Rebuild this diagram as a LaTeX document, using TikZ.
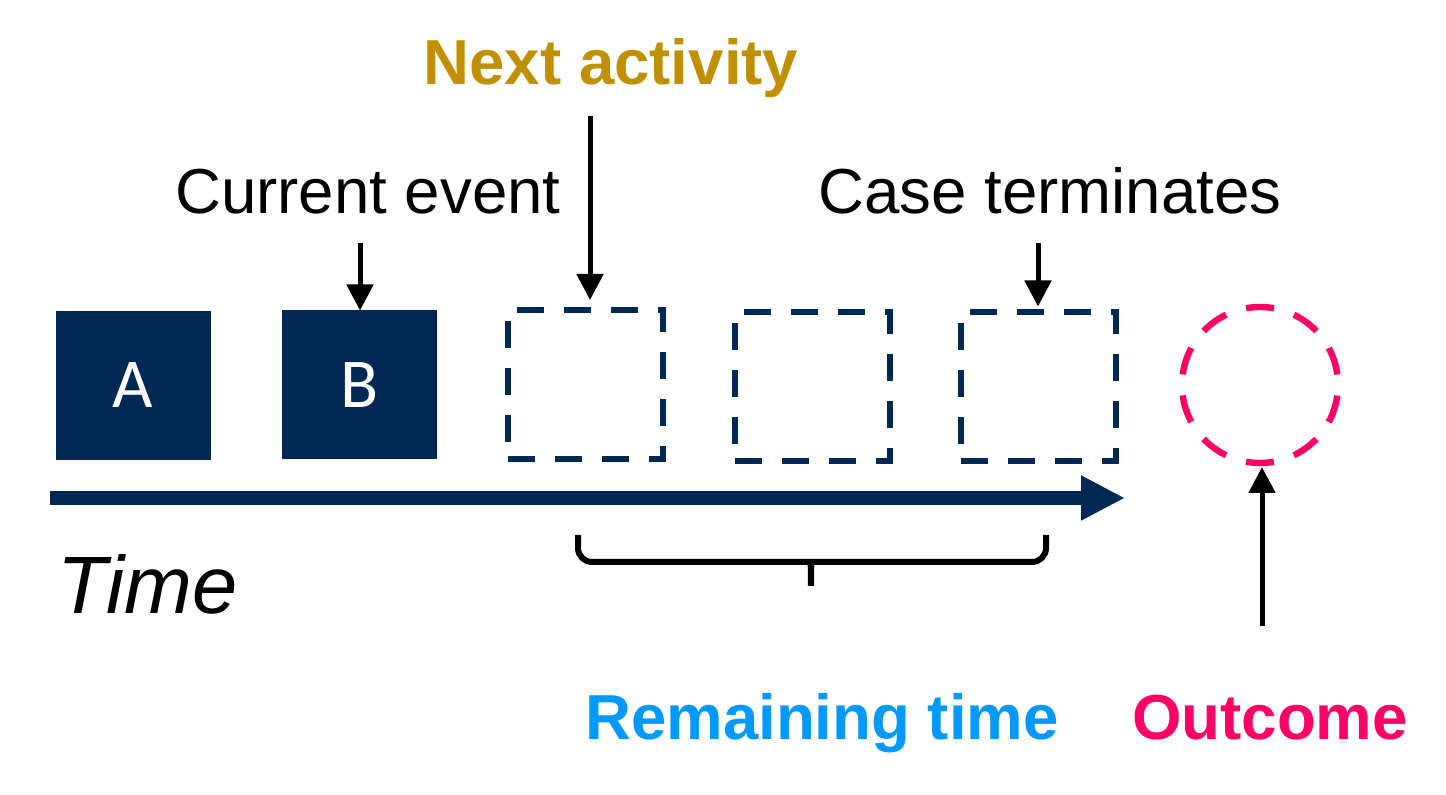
\documentclass[tikz,border=0pt]{standalone}
\usepackage{fontspec}
\setmainfont{Liberation Sans}
\newfontfamily\calib{Carlito}
\usetikzlibrary{arrows.meta,shapes.geometric}
\definecolor{navy}{RGB}{0,40,85}
\definecolor{gold}{RGB}{192,144,0}
\definecolor{skyb}{RGB}{0,153,255}
\definecolor{pinkr}{RGB}{255,0,102}
\tikzset{
  evbox/.style={minimum width=77.5pt,minimum height=74.5pt,inner sep=0pt,outer sep=0pt},
  filledbox/.style={evbox,fill=navy,text=white,font=\calib\fontsize{35}{40}\selectfont},
  dashbox/.style={evbox,draw=navy,line width=3pt,dash pattern=on 13.5pt off 10pt},
  pointer/.style={line width=2.5pt,-{Triangle[length=13pt,width=13pt]}},
  lbl/.style={font=\fontsize{31.8}{36}\selectfont,inner sep=0pt,anchor=base},
  blbl/.style={font=\bfseries\fontsize{31.8}{36}\selectfont,inner sep=0pt,anchor=base}
}
\begin{document}
\begin{tikzpicture}[x=0.5pt,y=-0.5pt]
\useasboundingbox (0,0) rectangle (1446,795);
% boxes
\node[filledbox] (A) at (133,385.5) {A};
\node[filledbox] (B) at (359.5,385) {B};
\node[dashbox] (D1) at (585.5,384.5) {};
\node[dashbox] (D2) at (812,387) {};
\node[dashbox] (D3) at (1038,387) {};
\node[circle,draw=pinkr,line width=3.2pt,minimum size=78pt,inner sep=0pt,outer sep=0pt,dash pattern=on 14pt off 10.5pt,dash phase=19.25pt] (O) at (1260,385) {};
% time arrow
\coordinate (t0) at (50,498);
\coordinate (t1) at (1125,498);
\draw[navy,line width=7pt,-{Triangle[length=22pt,width=21pt]}] (t0) -- (t1);
% labels
\node[blbl,text=gold] (na) at (611,85) {Next activity};
\node[lbl] (ce) at (368,214) {Current event};
\node[lbl] (ct) at (1050,214) {Case terminates};
\node[font=\itshape\fontsize{40.7}{46}\selectfont,inner sep=0pt,anchor=base west] (tm) at (57,614) {Time};
\node[blbl,text=skyb] (rt) at (822,740) {Remaining time};
\node[blbl,text=pinkr] (oc) at (1270,740) {Outcome};
% pointers
\coordinate (ceS) at (360,243);
\coordinate (naS) at (590,115);
\coordinate (ctS) at (1038,243);
\coordinate (ocS) at (1262,626);
\draw[pointer] (ceS) -- (B.north -| ceS);
\draw[pointer] ([yshift=-0.5pt]naS) -- ([yshift=5pt]D1.north -| naS);
\draw[pointer] (ctS) -- ([yshift=3pt]D3.north -| ctS);
\draw[pointer] (ocS) -- ([yshift=-2pt]O.south -| ocS);
% brace
\coordinate (bl) at (578,535);
\coordinate (br) at (1046,535);
\coordinate (bm) at (811,562);
\coordinate (bt) at (811,586);
\draw[line width=3pt,rounded corners=7pt] (bl) |- (bm) -| (br);
\fill ([xshift=-6pt]bm) .. controls ([xshift=-1.5pt]bm) .. ([xshift=-1.6pt,yshift=-6pt]bm) -- ([xshift=-1.6pt]bt) -- ([xshift=1.6pt]bt) -- ([xshift=1.6pt,yshift=-6pt]bm) .. controls ([xshift=1.5pt]bm) .. ([xshift=6pt]bm) -- cycle;
\end{tikzpicture}
\end{document}
